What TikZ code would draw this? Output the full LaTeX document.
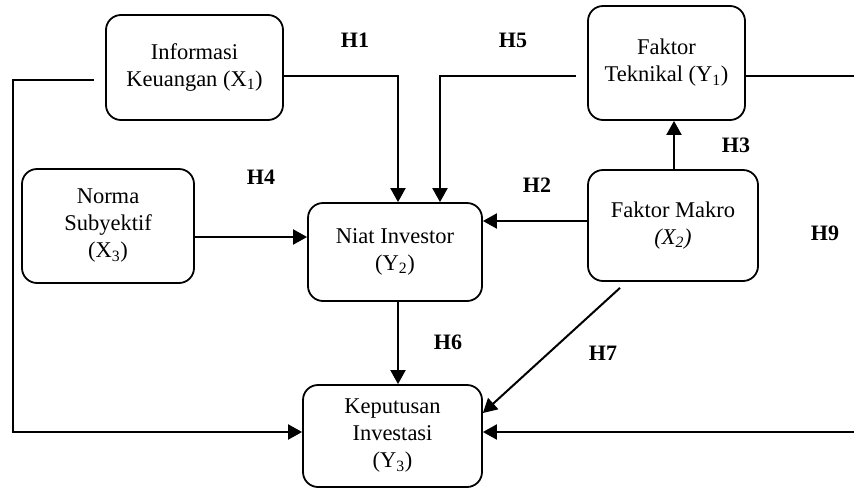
\documentclass[tikz,border=0pt]{standalone}
\usepackage{fontspec}
\setmainfont{Liberation Serif}
\usetikzlibrary{arrows.meta,calc}
\tikzset{
  box/.style={draw, line width=1.8pt, rounded corners=15pt, align=center,
    font=\fontsize{22.5}{27}\selectfont, inner sep=0pt},
  conn/.style={line width=2pt},
  arr/.style={conn, -{Triangle[length=14pt,width=15pt]}},
  hlab/.style={font=\fontsize{22}{24}\selectfont\bfseries, inner sep=0pt},
}
\begin{document}
\begin{tikzpicture}[x=1pt,y=-1pt]
\useasboundingbox (0,0) rectangle (854,488);
% boxes
\node[box, minimum width=177pt, minimum height=105pt] (info) at (194.5,67.5) {Informasi\\Keuangan (X\textsubscript{1})};
\node[box, minimum width=157pt, minimum height=114pt] (tekn) at (666.5,63) {Faktor\\Teknikal (Y\textsubscript{1})};
\node[box, minimum width=172pt, minimum height=114pt] (norma) at (108,226) {Norma\\Subyektif\\(X\textsubscript{3})};
\node[box, minimum width=174pt, minimum height=98pt] (niat) at (395,252) {Niat Investor\\(Y\textsubscript{2})};
\node[box, minimum width=170pt, minimum height=111pt] (makro) at (673,225.5) {Faktor Makro\\\textit{(X\textsubscript{2})}};
\node[box, minimum width=179pt, minimum height=102pt] (kep) at (392.5,436) {Keputusan\\Investasi\\(Y\textsubscript{3})};
% free ends and helper points
\coordinate (L) at (13,432);
\coordinate (R) at (854,432);
\coordinate (TR) at (854,76);
\coordinate (mk) at ($(makro.west)+(0,-4.5)$);
\coordinate (nm) at ($(norma.east)+(0,11)$);
% connectors
\draw[arr] ($(info.west)+(-11,12.5)$) -| (L) -- (L -| kep.west);
\draw[arr] ($(info.east)+(0,8.5)$) -| ($(niat.north)+(3,0)$);
\draw[arr] ($(tekn.west)+(-11,13)$) -| ($(niat.north)+(45,0)$);
\draw[conn] ($(tekn.east)+(0,13)$) -- (TR);
\draw[arr] (R) -- (R -| kep.east);
\draw[arr] ($(makro.north)+(1,0)$) -- ($(tekn.south)+(7.5,0)$);
\draw[arr] (mk) -- (mk -| niat.east);
\draw[arr] (nm) -- (nm -| niat.west);
\draw[arr] ($(niat.south)+(3,0)$) -- ($(kep.north)+(5.5,0)$);
\draw[arr] ($(makro.south)+(-53,6)$) -- ($(kep.east)+(0,-23)$);
% labels
\node[hlab] (h1) at (355,40) {H1};
\node[hlab] (h5) at (513,40) {H5};
\node[hlab] (h3) at (736,145) {H3};
\node[hlab] (h4) at (261,177) {H4};
\node[hlab] (h2) at (537,185) {H2};
\node[hlab] (h9) at (825,233) {H9};
\node[hlab] (h6) at (448,342) {H6};
\node[hlab] (h7) at (603,353) {H7};
\end{tikzpicture}
\end{document}
